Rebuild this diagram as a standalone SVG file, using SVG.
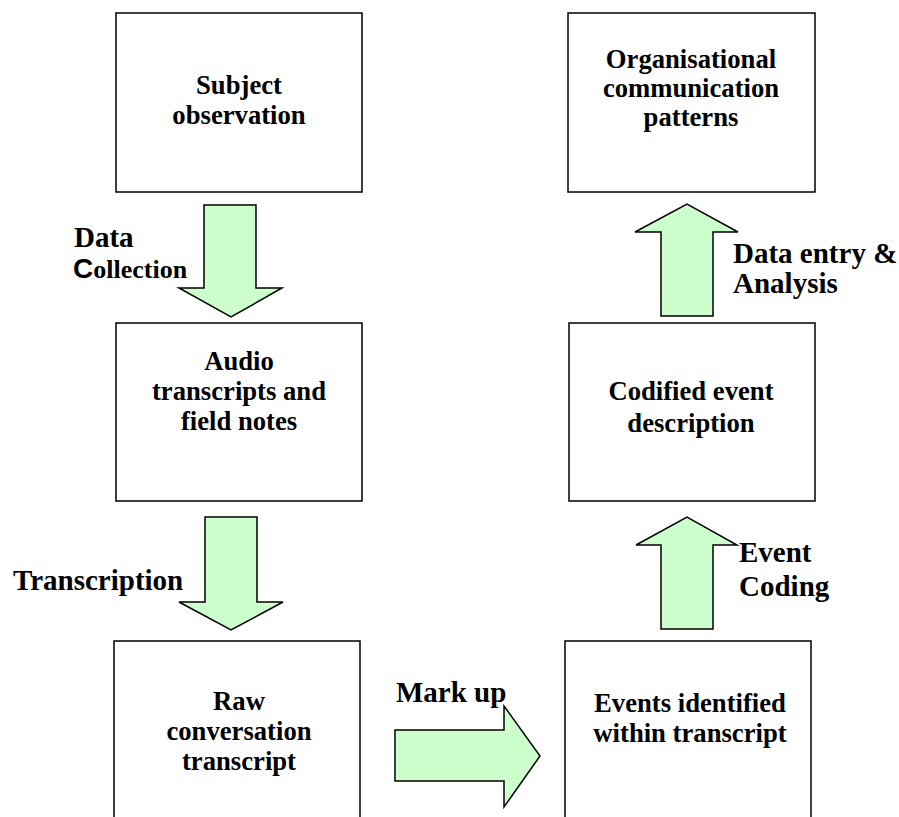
<svg xmlns="http://www.w3.org/2000/svg" width="899" height="817" viewBox="0 0 899 817">
<style>
.box{fill:#fff;stroke:#000;stroke-width:1.5}
.arr{fill:#ccffcc;stroke:#000;stroke-width:1.5;stroke-linejoin:miter}
.nt{font-family:"Liberation Serif","Times New Roman",serif;font-weight:bold;font-size:26.67px;text-anchor:middle;fill:#000}
.lb{font-family:"Liberation Serif","Times New Roman",serif;font-weight:bold;font-size:29px;fill:#000}
</style>
<rect width="899" height="817" fill="#fff"/>
<g id="subject">
<rect class="box" x="116" y="13" width="246" height="179"/>
<text class="nt" x="239" y="94">Subject</text>
<text class="nt" x="239" y="124">observation</text>
</g>
<g id="audio">
<rect class="box" x="116" y="323" width="246" height="178"/>
<text class="nt" x="239" y="370">Audio</text>
<text class="nt" x="239" y="400">transcripts and</text>
<text class="nt" x="239" y="430">field notes</text>
</g>
<g id="raw">
<rect class="box" x="114" y="641" width="246" height="200"/>
<text class="nt" x="239" y="710">Raw</text>
<text class="nt" x="239" y="740">conversation</text>
<text class="nt" x="239" y="770">transcript</text>
</g>
<g id="org">
<rect class="box" x="568" y="13" width="247" height="179"/>
<text class="nt" x="691" y="68">Organisational</text>
<text class="nt" x="691" y="97">communication</text>
<text class="nt" x="691" y="126">patterns</text>
</g>
<g id="codified">
<rect class="box" x="569" y="323" width="246" height="178"/>
<text class="nt" x="691" y="400">Codified event</text>
<text class="nt" x="691" y="432">description</text>
</g>
<g id="events">
<rect class="box" x="565" y="641" width="246" height="200"/>
<text class="nt" x="690" y="712">Events identified</text>
<text class="nt" x="690" y="742">within transcript</text>
</g>
<g id="connectors">
<polygon class="arr" points="204,205 256,205 256,288 282,288 231,317 179,288 204,288"/>
<polygon class="arr" points="205,517 257,517 257,602 283,602 231,630 179,602 205,602"/>
<polygon class="arr" points="395,730 504,730 504,706 540,756 504,807 504,781 395,781"/>
<polygon class="arr" points="661,629 713,629 713,545 737,545 687,517 636,545 661,545"/>
<polygon class="arr" points="661,316 713,316 713,232 738,232 687,204 635,232 661,232"/>
<text class="lb" x="74" y="247">Data</text>
<text class="lb" x="73" y="278"><tspan font-family="'Liberation Sans',Arial,sans-serif" font-size="28">C</tspan><tspan font-size="26">ollection</tspan></text>
<text class="lb" x="13" y="590">Transcription</text>
<text class="lb" x="396" y="702">Mark up</text>
<text class="lb" x="733" y="263">Data entry &amp;</text>
<text class="lb" x="733" y="293">Analysis</text>
<text class="lb" x="739" y="562">Event</text>
<text class="lb" x="739" y="596">Coding</text>
</g>
</svg>
